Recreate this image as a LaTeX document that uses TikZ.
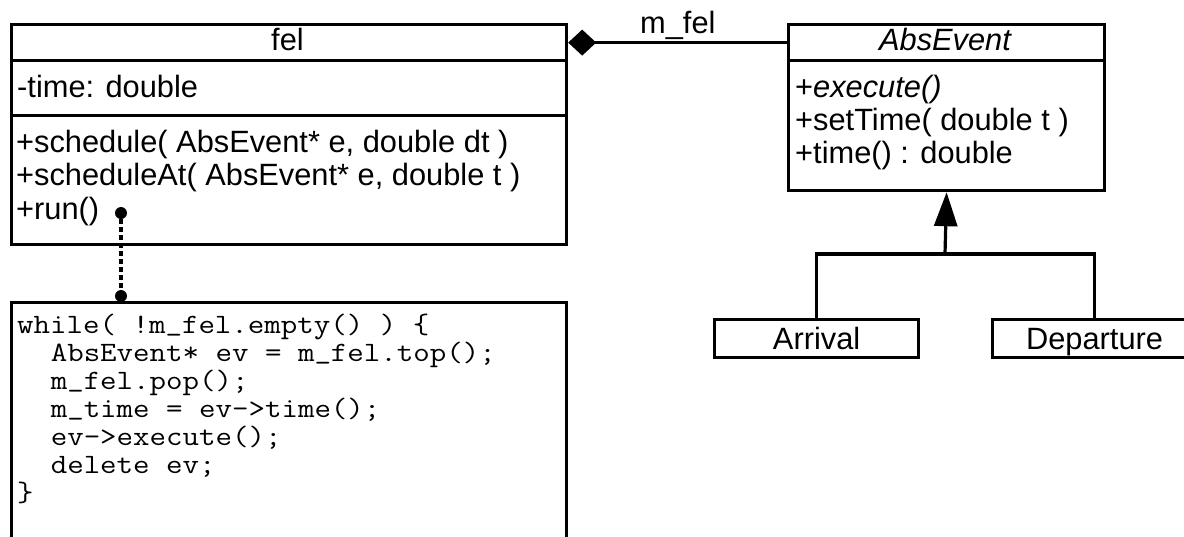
\documentclass[tikz,border=0pt]{standalone}
\usepackage{fontspec}
\usepackage{graphicx}
\setmainfont{Liberation Sans}
\usetikzlibrary{arrows.meta}

% underscore sitting a little higher, so it stays clear of the next code line
\newcommand{\codeus}{\raisebox{3pt}{\_}}
% code lines: typewriter face widened to the 16.8pt column pitch
\newcommand{\codetext}[1]{\scalebox{1.143}[1]{#1}}

\tikzset{
  umlline/.style={line width=3.2pt},
  compart/.style={draw, line width=3.2pt, rectangle, inner sep=0pt, anchor=north west},
  lbl/.style={inner sep=0pt, font=\fontsize{30.8}{34}\selectfont},
  codeline/.style={inner sep=0pt, anchor=base west,
    font=\ttfamily\fontsize{28}{28}\selectfont\frenchspacing},
  pin/.style={circle, fill=black, inner sep=0pt, minimum size=12pt},
  dotlink/.style={line width=3.2pt, dash pattern=on 5pt off 3pt},
}

\begin{document}
\begin{tikzpicture}[x=1pt,y=-1pt]
\useasboundingbox (0,0) rectangle (1184,536);
\clip (0,0) rectangle (1184,536);

% class fel
\node[compart, minimum width=555pt, minimum height=36pt]  (felName) at (10,23)  {};
\node[compart, minimum width=555pt, minimum height=55pt]  (felAttr) at (10,59)  {};
\node[compart, minimum width=555pt, minimum height=129pt] (felOps)  at (10,114) {};
\node[lbl, anchor=base] (felTitle) at (287.5,50) {fel};
\node[lbl, anchor=base west] (felTime) at (17,97) {-time: double};
\node[lbl, anchor=base west] (opSchedule)   at (16,152)   {+schedule( AbsEvent* e, double dt )};
\node[lbl, anchor=base west] (opScheduleAt) at (16,185.5) {+scheduleAt( AbsEvent* e, double t )};
\node[lbl, anchor=base west] (opRun)        at (16,219)   {+run()};

% class AbsEvent
\node[compart, minimum width=316pt, minimum height=36pt]  (absName) at (787,23) {};
\node[compart, minimum width=316pt, minimum height=130pt] (absOps)  at (787,59) {};
\node[lbl, anchor=base] (absTitle) at (945,50) {\itshape AbsEvent};
\node[lbl, anchor=base west] (opExecute) at (795,97)  {+\textit{execute()}};
\node[lbl, anchor=base west] (opSetTime) at (795,130) {+setTime( double t )};
\node[lbl, anchor=base west] (opTime)    at (795,163) {+time() : double};

% subclasses
\node[compart, minimum width=204pt, minimum height=38pt] (arrival)   at (713,318) {};
\node[compart, minimum width=204pt, minimum height=38pt] (departure) at (991,318) {};
\node[lbl, anchor=base] (arrivalTxt)   at (arrival.center)   [yshift=-11pt] {Arrival};
\node[lbl, anchor=base] (departureTxt) at (departure.center) [yshift=-11pt] {Departure};

% note with the body of run()
\node[compart, minimum width=555pt, minimum height=260pt] (codeBox) at (10,301) {};
\node[codeline] (c1) at (17,333)   {\codetext{while( !m\codeus fel.empty() ) \{}};
\node[codeline] (c2) at (50.6,361) {\codetext{AbsEvent* ev = m\codeus fel.top();}};
\node[codeline] (c3) at (50.6,389) {\codetext{m\codeus fel.pop();}};
\node[codeline] (c4) at (50.6,417) {\codetext{m\codeus time = ev->time();}};
\node[codeline] (c5) at (50.6,445) {\codetext{ev->execute();}};
\node[codeline] (c6) at (50.6,473) {\codetext{delete ev;}};
\node[codeline] (c7) at (17,501)   {\codetext{\}}};

% composition fel <>-- AbsEvent
\draw[umlline, {Diamond[length=28pt,width=26pt]}-] (felName.east) -- (absName.west);
\node[lbl, anchor=base west] (assocLbl) at (640,33) {m\_fel};

% generalization
\coordinate (junc) at (945,254);
\draw[umlline] (arrival.north) |- (junc) -| (departure.north);
\draw[umlline, -{Triangle[length=34pt,width=23pt]}] (junc) -- (absOps.south);

% link from run() to its note
\node[pin] (runPin)  at (121,213) {};
\node[pin] (codePin) at (121,296) {};
\draw[dotlink] (runPin) -- (codePin);
\end{tikzpicture}
\end{document}
